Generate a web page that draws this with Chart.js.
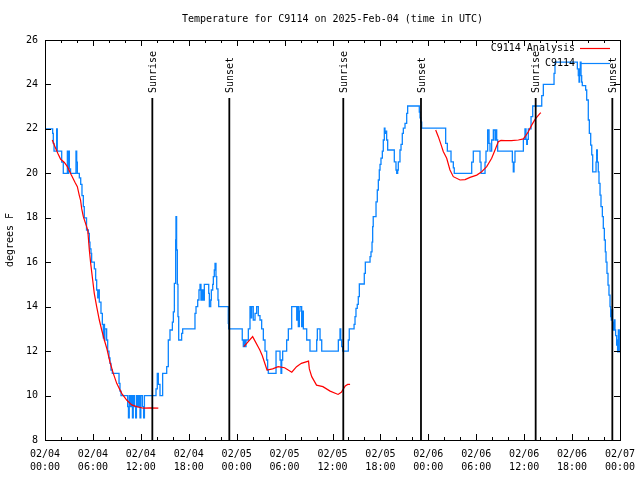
<!DOCTYPE html>
<html>
<head>
<meta charset="utf-8">
<script src="https://cdn.jsdelivr.net/npm/chart.js@4.4.1/dist/chart.umd.min.js"></script>
<style>
  html, body { margin: 0; padding: 0; background: #fff; }
  canvas { display: block; }
</style>
</head>
<body>
<canvas id="myChart" width="640" height="480"></canvas>
<script>
// hours after 02/04 00:00 UTC
const obsHours = [0,0.96,1.04,1.13,1.46,1.54,2.09,2.29,2.8,2.85,2.95,3.05,3.2,3.88,3.97,4.05,4.3,4.47,4.63,4.8,4.92,5.2,5.43,5.55,5.63,5.76,5.84,6.18,6.34,6.47,6.6,6.7,6.8,7.01,7.18,7.3,7.35,7.45,7.5,7.72,7.85,8.01,8.14,8.26,8.43,9.27,9.39,9.52,10.35,10.45,10.55,10.7,10.85,10.95,11.05,11.2,11.35,11.45,11.6,11.75,11.9,12.0,12.2,12.35,12.45,13.9,14.06,14.19,14.4,14.73,15.24,15.44,15.65,15.95,16.07,16.2,16.36,16.4,16.48,16.57,16.65,16.74,17.11,17.24,18.78,18.91,19.12,19.28,19.41,19.53,19.66,19.82,19.95,20.5,20.58,20.75,20.83,21.0,21.08,21.2,21.29,21.41,21.5,21.66,21.75,22.95,23.0,24.7,24.83,24.92,25.04,25.17,25.46,25.67,25.8,25.88,26.08,26.3,26.5,26.71,26.92,27.13,27.34,27.55,27.76,27.88,27.96,28.93,29.43,29.55,29.64,29.76,30.26,30.47,30.89,31.52,31.64,31.72,31.85,31.93,32.14,32.26,32.35,32.77,33.18,34.02,34.1,34.44,34.65,36.73,36.94,37.03,37.15,37.28,37.98,38.1,38.7,38.82,38.94,39.1,39.23,39.36,39.98,40.11,40.7,40.82,40.95,41.03,41.1,41.45,41.61,41.74,41.86,41.95,42.07,42.24,42.36,42.49,42.57,42.66,42.78,42.91,43.74,43.95,44.04,44.16,44.24,44.45,44.58,44.74,44.87,45.08,45.29,45.41,46.87,46.96,47.04,47.17,50.17,50.38,50.84,51.13,51.25,53.43,53.63,54.47,54.6,55.1,55.22,55.43,55.6,55.72,55.93,56.14,56.35,56.47,56.56,56.68,58.52,58.64,58.73,58.85,59.9,60.1,60.23,60.32,60.4,60.52,60.86,61.07,62.2,62.4,63.74,63.86,66.66,66.78,66.87,66.95,67.03,67.12,67.2,67.28,67.7,67.83,68.03,68.16,68.33,68.46,68.58,69.0,69.08,69.16,69.28,69.37,69.5,69.62,69.79,69.91,70.04,70.16,70.25,70.37,70.5,70.62,70.75,70.83,70.91,71.0,71.08,71.16,71.29,71.37,71.45,71.58,71.66,71.7,71.79,71.91,72];
const obsTemps = [22,21.8,21.35,21,22,21,20.5,20,21,20,21,20.2,20,21,20.5,20,19.8,19.5,19,18.5,18,17.45,17.3,16.9,16.6,16.4,16,15.7,15.2,14.75,14.4,14.75,14.2,13.7,13.2,12.6,13.2,12.5,13,12.5,12,11.7,11.45,11.15,11,10.55,10.2,10,9.5,9,10,9.5,10,9,10,9.5,9,10,9.5,10,9,10,9.5,9,10,10.3,11,10.5,10,11,11.3,12.5,12.95,13.3,13.77,15.05,17,18.05,16.55,15,13.55,12.5,12.8,13,13.7,14,14.3,14.75,15,14.3,14.75,14.3,15,14.6,14,14.3,14.75,15,15.35,15.65,15.95,15.35,14.8,14.3,14,13.25,13,12.5,12.2,12.5,12.2,12.5,13,14,13.5,14,13.4,13.7,14,13.6,13.4,13,12.5,12,11.6,11.15,11,12,11.6,11,11.6,12,12.5,13,14,13.4,14,13.1,13.8,14,13.1,13.8,13,12.5,12,12.5,13,12.5,12,12.5,13,12.5,12.2,12,12.5,13,13.2,13.55,13.92,14.1,14.45,15.02,15.5,16,16.25,16.47,16.9,17.6,18.05,18.72,19.25,19.7,20.15,20.4,20.68,21,21.5,22.03,21.8,21.9,21.5,21.05,20.52,20.15,20,20.15,20.52,21.05,21.3,21.8,22.03,22.25,22.7,23.03,22.75,22.5,22.3,22.03,21.35,21,20.52,20.25,20,20.5,21,20.5,20,20.5,21,21.95,21.35,21,21.5,21.95,21.5,21.95,21.5,21,20.5,20.07,20.5,21,21.53,22,21.53,21.3,21.53,22,22.55,23.03,23.5,24,24.5,25,24.7,24.4,24.1,24.7,25,24.4,24.1,23.95,23.75,23.3,22.4,21.8,21.27,20.83,20.07,20.5,21.05,20.5,20.07,19.55,19.02,18.5,18.05,17.52,17,16.47,16,15.5,14.97,14.52,14,13.55,13.4,13.85,13.3,12.95,13.4,12.95,12.7,12.27,12.5,11.97,12.95,11.97,11.97];

const anaHours = [0.91,1.25,1.6,1.96,2.4,2.8,3.3,3.75,4.05,4.3,4.45,4.6,4.8,5.35,5.55,5.72,5.97,6.17,6.47,6.8,7.1,7.43,7.73,8.14,8.55,8.98,9.6,10.23,10.86,11.48,12.31,13.15,14.19,19,24.9,26.0,26.9,27.2,27.8,28.5,29.2,30.0,30.9,31.5,32.1,33.0,33.1,33.4,34.0,34.8,35.7,36.7,37.1,37.6,37.9,38.2,43,48.92,49.25,49.6,49.87,50.3,50.71,51.13,51.97,52.6,53.22,54.06,54.68,55.31,55.93,56.35,56.76,57.1,57.6,58.4,59.27,59.9,60.2,60.52,60.94,61.36,61.98,62.1];
const anaTemps = [21.5,21.2,20.9,20.63,20.5,20.3,19.92,19.6,19.4,19.0,18.8,18.4,18.05,17.45,16.55,15.95,15.2,14.6,14.0,13.4,12.95,12.5,12.13,11.5,11.0,10.55,10.1,9.8,9.58,9.5,9.43,9.45,9.43,null,12.2,12.65,12.05,11.8,11.15,11.2,11.3,11.25,11.05,11.3,11.45,11.55,11.2,10.85,10.47,10.4,10.2,10.05,10.15,10.43,10.5,10.5,null,21.95,21.65,21.28,20.98,20.68,20.15,19.85,19.7,19.72,19.82,19.92,20.07,20.3,20.68,21.05,21.42,21.48,21.47,21.47,21.5,21.55,21.7,21.87,22.17,22.43,22.7,22.73];

const sunHours = [13.44, 23.08, 37.35, 47.08, 61.44, 71.04];
const sunNames = ['Sunrise', 'Sunset', 'Sunrise', 'Sunset', 'Sunrise', 'Sunset'];

const dayLabels = ['02/04', '02/05', '02/06', '02/07'];
const yTicks = [8, 10, 12, 14, 16, 18, 20, 22, 24, 26];
const titleText = 'Temperature for C9114 on 2025-Feb-04 (time in UTC)';

const FONT = "'DejaVu Sans Mono', 'Liberation Mono', monospace";

function pad2(n) { return (n < 10 ? '0' : '') + n; }

const gnuplotFrame = {
    id: 'gnuplotFrame',
    afterDatasetsDraw(chart) {
        const ctx = chart.ctx;
        const a = chart.chartArea;
        const xs = chart.scales.x, ys = chart.scales.y;
        ctx.save();
        ctx.strokeStyle = '#000';
        ctx.lineWidth = 1;
        // frame
        ctx.strokeRect(Math.round(a.left) + 0.5, Math.round(a.top) + 0.5,
            Math.round(a.right - a.left), Math.round(a.bottom - a.top));
        // inward ticks
        ctx.beginPath();
        xs.ticks.forEach(t => {
            const px = Math.round(xs.getPixelForValue(t.value)) + 0.5;
            const len = t.value % 6 === 0 ? 6 : 3;
            ctx.moveTo(px, a.bottom); ctx.lineTo(px, a.bottom - len);
            ctx.moveTo(px, a.top); ctx.lineTo(px, a.top + len);
        });
        ys.ticks.forEach(t => {
            const py = Math.round(ys.getPixelForValue(t.value)) + 0.5;
            ctx.moveTo(a.left, py); ctx.lineTo(a.left + 6, py);
            ctx.moveTo(a.right, py); ctx.lineTo(a.right - 6, py);
        });
        ctx.stroke();

        ctx.fillStyle = '#000';
        ctx.font = '10px ' + FONT;

        // title centred over the plot, like gnuplot
        ctx.textAlign = 'center';
        ctx.textBaseline = 'middle';
        ctx.fillText(titleText, (a.left + a.right) / 2, 19);

        // sunrise / sunset markers
        ctx.lineWidth = 1.8;
        sunHours.forEach((h, i) => {
            const px = xs.getPixelForValue(h);
            ctx.beginPath();
            ctx.moveTo(px, a.top + 58);
            ctx.lineTo(px, a.bottom);
            ctx.stroke();
            ctx.save();
            ctx.translate(px + 1, a.top + 53);
            ctx.rotate(-Math.PI / 2);
            ctx.textAlign = 'left';
            ctx.textBaseline = 'middle';
            ctx.fillText(sunNames[i], 0, 0);
            ctx.restore();
        });

        // key
        ctx.textAlign = 'right';
        ctx.textBaseline = 'middle';
        chart.data.datasets.forEach((ds, i) => {
            const y = a.top + 8 + i * 15;
            ctx.fillStyle = '#000';
            ctx.fillText(ds.label, a.right - 45, y);
            ctx.strokeStyle = ds.borderColor;
            ctx.lineWidth = 1.2;
            ctx.beginPath();
            ctx.moveTo(a.right - 40, Math.round(y) + 0.5);
            ctx.lineTo(a.right - 10, Math.round(y) + 0.5);
            ctx.stroke();
        });
        ctx.restore();
    }
};

window.addEventListener('DOMContentLoaded', () => {
    const ctx = document.getElementById('myChart').getContext('2d');
    const myChart = new Chart(ctx, {
        type: 'line',
        data: {
            datasets: [{
                label: 'C9114 Analysis',
                data: anaHours.map((h, i) => ({ x: h, y: anaTemps[i] })),
                borderColor: '#ff0000',
                borderWidth: 1.2,
                pointRadius: 0,
                spanGaps: false
            }, {
                label: 'C9114',
                data: obsHours.map((h, i) => ({ x: h, y: obsTemps[i] })),
                borderColor: '#0a84ff',
                borderWidth: 1.3,
                pointRadius: 0,
                stepped: true
            }]
        },
        options: {
            responsive: false,
            animation: false,
            layout: { padding: { left: 4, right: 20, top: 40, bottom: 0 } },
            plugins: {
                legend: { display: false },
                tooltip: { enabled: false },
                title: { display: false }
            },
            scales: {
                x: {
                    type: 'linear',
                    min: 0,
                    max: 72,
                    grid: { display: false, drawTicks: false },
                    border: { display: false },
                    afterFit: s => { s.height = 40; s.paddingLeft = 0; s.paddingRight = 0; },
                    ticks: {
                        stepSize: 2,
                        autoSkip: false,
                        maxRotation: 0,
                        padding: 8,
                        color: '#000',
                        font: { family: FONT, size: 10, lineHeight: 1.3 },
                        callback: v => {
                            if (v % 6 !== 0) return '';
                            return [dayLabels[Math.floor(v / 24)], pad2(v % 24) + ':00'];
                        }
                    }
                },
                y: {
                    min: 8,
                    max: 26,
                    grid: { display: false, drawTicks: false },
                    border: { display: false },
                    afterFit: s => { s.width = 41; s.paddingTop = 0; s.paddingBottom = 0; },
                    afterBuildTicks: s => { s.ticks = yTicks.map(v => ({ value: v })); },
                    title: {
                        display: true,
                        text: 'degrees F',
                        color: '#000',
                        padding: 0,
                        font: { family: FONT, size: 10 }
                    },
                    ticks: {
                        padding: 7,
                        color: '#000',
                        font: { family: FONT, size: 10 }
                    }
                }
            }
        },
        plugins: [gnuplotFrame]
    });
});
</script>
</body>
</html>
